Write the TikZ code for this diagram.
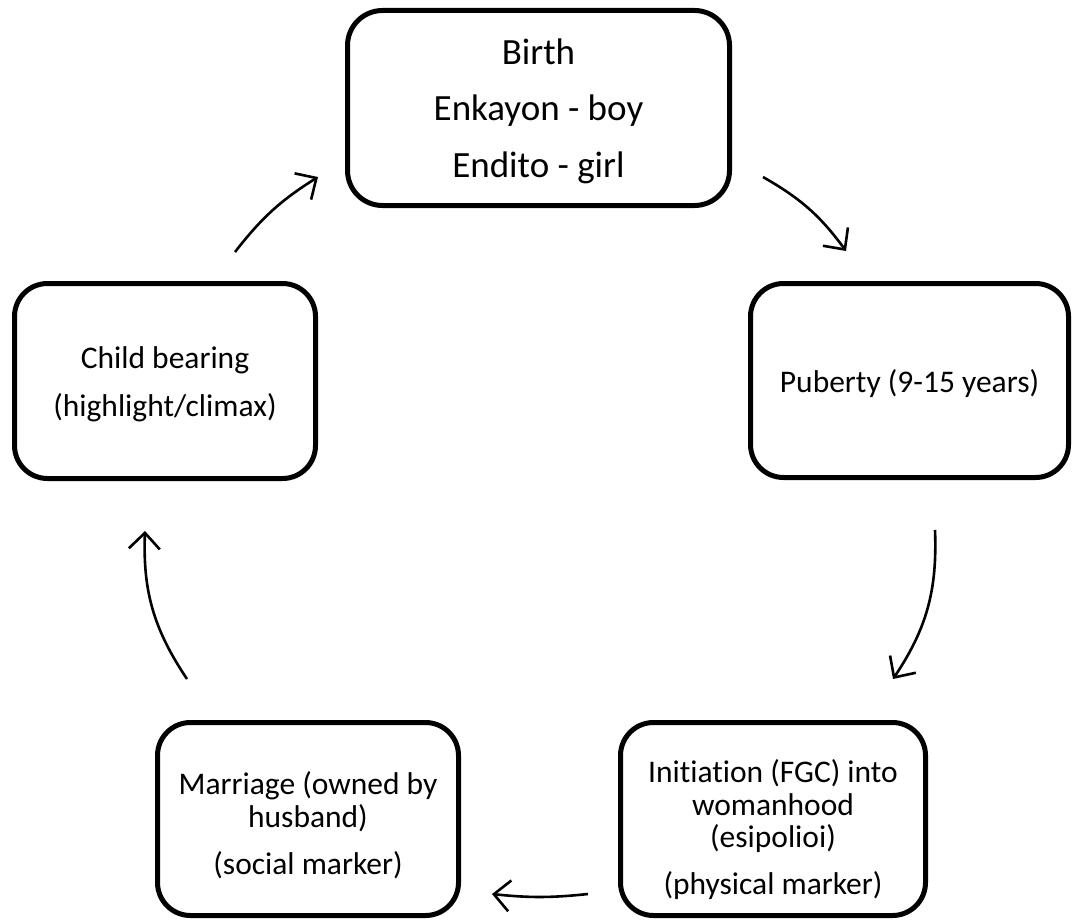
\documentclass[tikz,border=0pt]{standalone}
\usepackage{fontspec}
\setmainfont{Carlito}[RawFeature=-liga]
\usetikzlibrary{arrows.meta}
\tikzset{
  stage/.style={draw=black, line width=5pt, rounded corners=33pt, inner sep=0pt},
  stagetext/.style={align=center, inner sep=0pt, font=\fontsize{31.5}{32.5}\selectfont},
  flow/.style={line width=2.6pt, -{Straight Barb[length=16pt,width=31pt]}, bend left=18}
}
\begin{document}
\begin{tikzpicture}[x=1pt,y=-1pt]
\useasboundingbox (0,0) rectangle (1075,920);
\node[stage, minimum width=382pt, minimum height=195pt, rounded corners=35pt] (birth) at (538.5,108) {};
\node[stagetext, font=\fontsize{37}{56.5}\selectfont] (birthtext) at ([yshift=-3pt]birth.center)
  {Birth\\Enkayon - boy\\Endito - girl};
\node[stage, minimum width=318pt, minimum height=194pt] (puberty) at (909.5,380.5) {};
\node[stagetext] (pubertytext) at ([yshift=-3pt]puberty.center) {Puberty (9-15 years)};
\node[stage, minimum width=301pt, minimum height=195pt] (child) at (165,381) {};
\node[stagetext] (childtext) at ([yshift=-3pt]child.center) {Child bearing\\[15.5pt](highlight/climax)};
\node[stage, minimum width=301pt, minimum height=193pt] (marriage) at (308,819) {};
\node[stagetext] (marriagetext) at ([yshift=-6pt]marriage.center)
  {Marriage (owned by\\husband)\\[14.5pt](social marker)};
\node[stage, minimum width=305pt, minimum height=193pt] (init) at (773,819) {};
\node[stagetext] (inittext) at ([yshift=-11pt]init.center)
  {Initiation (FGC) into\\womanhood\\(esipolioi)\\[14.5pt](physical marker)};
\coordinate (a1s) at (235,252); \coordinate (a1e) at (318,177);
\coordinate (a2s) at (763,177); \coordinate (a2e) at (846,251);
\coordinate (a3s) at (935,530); \coordinate (a3e) at (893,679);
\coordinate (a4s) at (588,894); \coordinate (a4e) at (492,894);
\coordinate (a5s) at (187,679); \coordinate (a5e) at (145,531);
\draw[flow, bend left=10] (a1s) to (a1e);
\draw[flow, bend left=12] (a2s) to (a2e);
\draw[flow] (a3s) to (a3e);
\draw[flow, bend left=6] (a4s) to (a4e);
\draw[flow] (a5s) to (a5e);
\end{tikzpicture}
\end{document}
